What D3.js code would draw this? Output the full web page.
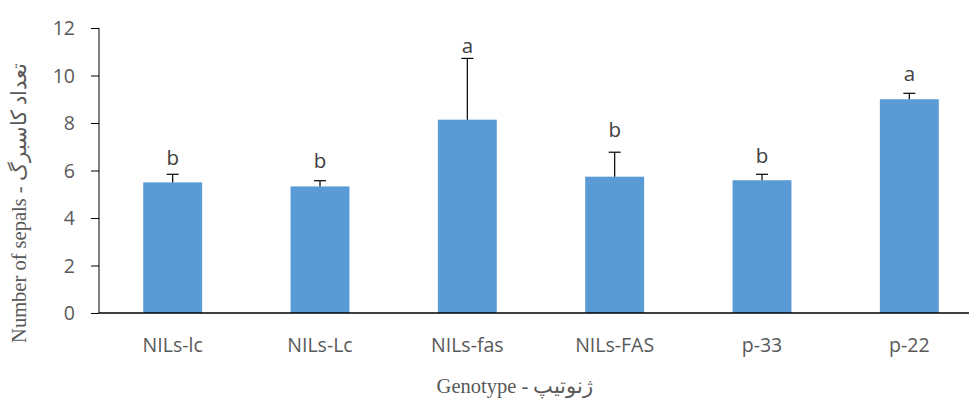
<!DOCTYPE html>
<meta charset="utf-8">
<style>
    body { margin: 0; background: #fff; overflow: hidden; }
    .tick text { fill: #595959; font-family: "Open Sans", sans-serif; font-size: 19.5px; }
    .title { fill: #595959; font-family: "Liberation Serif", serif; font-size: 20.5px; }
    .letter { fill: #404040; font-family: "Open Sans", sans-serif; font-size: 20.5px; }
</style>
<svg id="canvas" width="969" height="401"></svg>
<script src="https://d3js.org/d3.v7.min.js"></script>
<script>

    var genotypes = ["NILs-lc", "NILs-Lc", "NILs-fas", "NILs-FAS", "p-33", "p-22"];
    var means = [5.50, 5.33, 8.14, 5.74, 5.59, 9.00];
    var errors = [0.34, 0.24, 2.58, 1.03, 0.25, 0.25];
    var letters = ["b", "b", "a", "b", "b", "a"];
    var letterY = [6.23, 6.10, 10.95, 7.41, 6.33, 9.77];
    var yTicks = [0, 2, 4, 6, 8, 10, 12];

    var svg = d3.select("svg");

    var x = d3.scaleBand()
              .domain(genotypes)
              .range([99, 983])
              .paddingInner(0.6)
              .paddingOuter(0.3);

    var y = d3.scaleLinear().domain([0, 12]).range([313, 28]);

    var data = genotypes.map(function(g, i) {
        return { g: g, v: means[i], e: errors[i], l: letters[i], ly: letterY[i] };
    });

    // bars
    svg.append("g").selectAll("rect")
       .data(data)
       .enter().append("rect")
       .attr("x", function(d) { return x(d.g); })
       .attr("y", function(d) { return y(d.v); })
       .attr("width", x.bandwidth())
       .attr("height", function(d) { return y(0) - y(d.v); })
       .attr("fill", "#5b9bd5");

    // error bars (upper only)
    var eb = svg.append("g").attr("stroke", "#000").attr("stroke-width", 1.2);
    eb.selectAll("line.v")
      .data(data).enter().append("line")
      .attr("class", "v")
      .attr("x1", function(d) { return x(d.g) + x.bandwidth() / 2; })
      .attr("x2", function(d) { return x(d.g) + x.bandwidth() / 2; })
      .attr("y1", function(d) { return y(d.v); })
      .attr("y2", function(d) { return y(d.v + d.e); });
    eb.selectAll("line.cap")
      .data(data).enter().append("line")
      .attr("class", "cap")
      .attr("x1", function(d) { return x(d.g) + x.bandwidth() / 2 - 6; })
      .attr("x2", function(d) { return x(d.g) + x.bandwidth() / 2 + 6; })
      .attr("y1", function(d) { return y(d.v + d.e); })
      .attr("y2", function(d) { return y(d.v + d.e); });

    // significance letters
    svg.append("g").selectAll("text")
       .data(data).enter().append("text")
       .attr("class", "letter")
       .attr("text-anchor", "middle")
       .attr("x", function(d) { return x(d.g) + x.bandwidth() / 2; })
       .attr("y", function(d) { return y(d.ly); })
       .text(function(d) { return d.l; });

    // y axis
    var yAxis = svg.append("g")
       .attr("transform", "translate(99,0)")
       .call(d3.axisLeft(y).tickValues(yTicks).tickSize(8).tickPadding(16));
    yAxis.selectAll("path, line").attr("stroke", "#000");
    yAxis.select(".domain").attr("d", "M0," + y(12) + "V" + y(0));
    yAxis.selectAll(".tick text").attr("dy", "0.35em");

    // x axis
    var xAxis = svg.append("g")
       .attr("transform", "translate(0," + y(0) + ")")
       .call(d3.axisBottom(x).tickSize(0));
    xAxis.select(".domain").attr("stroke", "#000").attr("stroke-width", 1.5)
         .attr("d", "M99,0H983");
    xAxis.selectAll(".tick text").attr("y", 39).attr("dy", 0);

    // axis titles
    svg.append("text")
       .attr("class", "title")
       .attr("text-anchor", "middle")
       .attr("transform", "translate(26,203) rotate(-90)")
       .text("Number of sepals - تعداد کاسبرگ");

    svg.append("text")
       .attr("class", "title")
       .attr("text-anchor", "middle")
       .attr("x", 515)
       .attr("y", 393)
       .text("Genotype - ژنوتیپ");

</script>
